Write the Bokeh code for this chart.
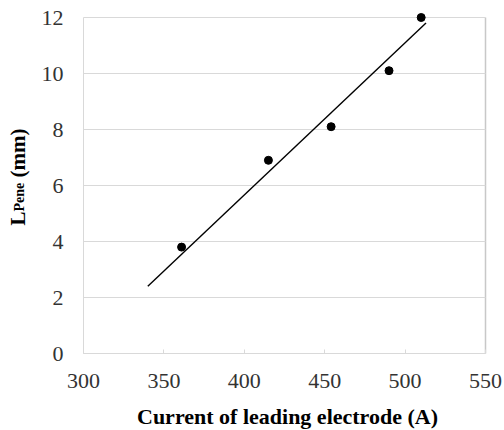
import math
from bokeh.plotting import figure
from bokeh.models import Range1d, FixedTicker, Label, Grid
from bokeh.embed import file_html
from bokeh.resources import INLINE

# ---- data ----
current = [361, 415, 454, 490, 510]          # Current of leading electrode (A)
l_pene = [3.8, 6.9, 8.1, 10.1, 12.0]         # L_Pene (mm)
fit_current = [340, 513]                     # trend line ends (A)
fit_l_pene = [2.4, 11.8]                     # trend line ends (mm)
x_ticks = [300, 350, 400, 450, 500, 550]
y_ticks = [0, 2, 4, 6, 8, 10, 12]

SERIF = "Liberation Serif"
GRID = "#d9d9d9"
TICK_TXT = "#333333"
W, H = 504, 430

# plot-area placement on the canvas (pixels)
PA_LEFT, PA_RIGHT, PA_TOP, PA_BOTTOM = 83, 485, 17, 353
x0, x1 = x_ticks[0], x_ticks[-1]
y0, y1 = y_ticks[0], y_ticks[-1]
xs = (PA_RIGHT - PA_LEFT) / (x1 - x0)
ys = (PA_BOTTOM - PA_TOP) / (y1 - y0)
x_range = Range1d(x0 - PA_LEFT / xs, x1 + (W - PA_RIGHT) / xs)
y_range = Range1d(y0 - (H - PA_BOTTOM) / ys, y1 + PA_TOP / ys)

p = figure(width=W, height=H, output_backend="svg", toolbar_location=None,
           x_range=x_range, y_range=y_range,
           min_border=0)
p.outline_line_color = None
p.background_fill_color = "white"
p.border_fill_color = "white"

has_cross = "cross_bounds" in Grid.properties()
if has_cross:
    p.ygrid.ticker = FixedTicker(ticks=y_ticks)
    p.ygrid.cross_bounds = (x0, x1)
    p.ygrid.grid_line_color = GRID
    p.xgrid.ticker = FixedTicker(ticks=[x1])
    p.xgrid.cross_bounds = (y0, y1)
    p.xgrid.grid_line_color = "#c8c8c8"
    p.xgrid.grid_line_width = 1.5
else:
    p.xgrid.grid_line_color = None
    p.ygrid.grid_line_color = None
    p.segment(x0=x0, x1=x1, y0=y_ticks, y1=y_ticks, line_color=GRID, line_width=1)
    p.segment(x0=[x1], x1=[x1], y0=[y0], y1=[y1], line_color="#c8c8c8", line_width=1.5)

# x axis
xa = p.xaxis[0]
xa.fixed_location = y0
xa.bounds = (x0, x1)
xa.ticker = FixedTicker(ticks=x_ticks)
xa.axis_line_color = GRID
xa.major_tick_line_color = GRID
xa.major_tick_in = 4
xa.major_tick_out = 0
xa.minor_tick_line_color = None
xa.major_label_text_font = SERIF
xa.major_label_text_font_size = "22px"
xa.major_label_text_color = TICK_TXT
xa.major_label_standoff = 20

# y axis
ya = p.yaxis[0]
ya.fixed_location = x0
ya.bounds = (y0, y1)
ya.ticker = FixedTicker(ticks=y_ticks)
ya.axis_line_color = GRID
ya.major_tick_line_color = None
ya.minor_tick_line_color = None
ya.major_label_text_font = SERIF
ya.major_label_text_font_size = "22px"
ya.major_label_text_color = TICK_TXT
ya.major_label_standoff = 14

# trend line and points
p.line(fit_current, fit_l_pene, line_color="black", line_width=1.4)
p.scatter(current, l_pene, size=8, fill_color="black", line_color="black")

# x-axis title
p.add_layout(Label(x=287, y=14, x_units="screen", y_units="screen",
                   text="Current of leading electrode (A)",
                   text_align="center", text_baseline="alphabetic",
                   text_font=SERIF, text_font_size="22px", text_font_style="bold",
                   text_color="black"))

# y-axis title with subscript: L_Pene (mm)
main_fs = 21
sub_fs = 14
ly0 = 205
x_base = 17
w_L = 0.667 * main_fs
w_sub = (0.611 + 0.444 + 0.556 + 0.444) * sub_fs
w_space = 0.25 * main_fs
for txt, fs, yy, xx in [("L", main_fs, ly0, x_base),
                        ("Pene", sub_fs, ly0 + w_L, x_base + 2),
                        ("(mm)", main_fs, ly0 + w_L + w_sub + w_space, x_base)]:
    p.add_layout(Label(x=xx, y=yy, x_units="screen", y_units="screen", text=txt,
                       angle=math.pi / 2, text_align="left", text_baseline="alphabetic",
                       text_font=SERIF, text_font_size=f"{fs}px", text_font_style="bold",
                       text_color="black"))

open("out.html", "w").write(file_html(p, INLINE))
